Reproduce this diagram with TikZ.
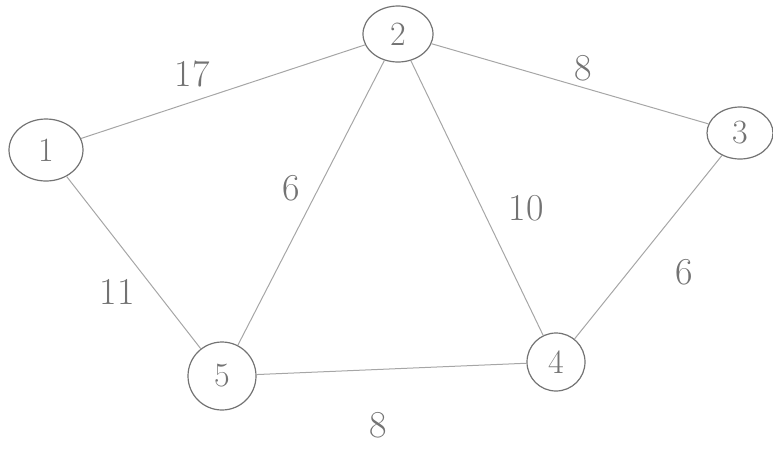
\documentclass[tikz,border=0pt]{standalone}
\usetikzlibrary{shapes.geometric}
\begin{document}
\begin{tikzpicture}[x=1pt,y=-1pt,
  vert/.style={ellipse,draw=black!55,line width=1.2pt,inner sep=0pt,text=black!55,font=\fontsize{34}{36}\selectfont},
  edge/.style={draw=black!35,line width=1pt},
  wt/.style={text=black!55,font=\fontsize{38}{40}\selectfont}]
\useasboundingbox (0,0) rectangle (773,448);
\node[vert,minimum width=74pt,minimum height=62pt] (n1) at (46,150) {1};
\node[vert,minimum width=70pt,minimum height=56pt] (n2) at (398,34) {2};
\node[vert,minimum width=66pt,minimum height=52pt] (n3) at (740,133) {3};
\node[vert,minimum width=58pt,minimum height=58pt] (n4) at (556,362) {4};
\node[vert,minimum width=68pt,minimum height=68pt] (n5) at (222,376) {5};
\draw[edge] (n1) -- (n2);
\draw[edge] (n1) -- (n5);
\draw[edge] (n2) -- (n5);
\draw[edge] (n2) -- (n4);
\draw[edge] (n2) -- (n3);
\draw[edge] (n3) -- (n4);
\draw[edge] (n5) -- (n4);
\node[wt] (w12) at (192,74) {17};
\node[wt] (w23) at (583,68) {8};
\node[wt] (w25) at (291,188) {6};
\node[wt] (w24) at (526,208) {10};
\node[wt] (w15) at (117,292) {11};
\node[wt] (w34) at (684,272) {6};
\node[wt] (w54) at (378,425) {8};
\end{tikzpicture}
\end{document}
